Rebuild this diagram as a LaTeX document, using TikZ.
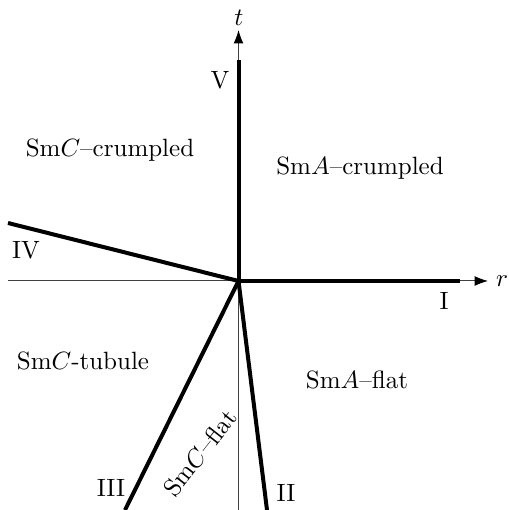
\documentclass[tikz,border=0pt]{standalone}
\usetikzlibrary{arrows.meta}
\begin{document}
\begin{tikzpicture}[x=0.4pt,y=-0.4pt,
  axis/.style={line width=0.4pt,black!75,-{Latex[length=5.4pt,width=4pt,black]}},
  phase/.style={line width=1.6pt,black},
  lbl/.style={inner sep=0pt,font=\normalsize}]
\useasboundingbox (0,0) rectangle (508,510);
\coordinate (O) at (238.5,281);
\coordinate (xl) at (8,281);
\coordinate (xr) at (488,281);
\coordinate (yb) at (238.5,510);
\coordinate (yt) at (238.5,30);
\coordinate (eI) at (460,281);
\coordinate (eV) at (238.5,60);
\coordinate (eIV) at (8,223);
\coordinate (eIII) at (125,510);
\coordinate (eII) at (267,510);
\draw[axis] (xl) -- (xr);
\draw[axis] (yb) -- (yt);
\draw[phase] (O) -- (eI);
\draw[phase] (O) -- (eV);
\draw[phase] (O) -- (eIV);
\draw[phase] (O) -- (eIII);
\draw[phase] (O) -- (eII);
\node[lbl] (r) at (502,281) {$r$};
\node[lbl] (t) at (239,18) {$t$};
\node[lbl] (I) at (444,301) {I};
\node[lbl] (II) at (286,493) {II};
\node[lbl] (III) at (111,488) {III};
\node[lbl] (IV) at (26,250) {IV};
\node[lbl] (V) at (220,80) {V};
\node[lbl] (scc) at (110,150) {Sm$C$--crumpled};
\node[lbl] (sac) at (360,168) {Sm$A$--crumpled};
\node[lbl] (sct) at (83,361) {Sm$C$-tubule};
\node[lbl] (saf) at (357,380) {Sm$A$--flat};
\node[lbl,rotate=52] (scf) at (200,453) {Sm$C$--flat};
\end{tikzpicture}
\end{document}
